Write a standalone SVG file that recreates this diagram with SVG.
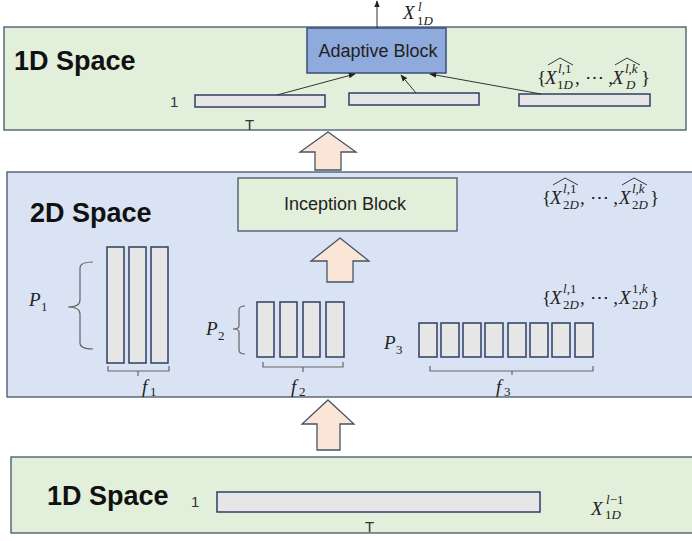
<svg xmlns="http://www.w3.org/2000/svg" width="692" height="541" viewBox="0 0 692 541">
  <style>
    .panel1d { fill: #e2efda; stroke: #44546a; stroke-width: 1.3; }
    .panel2d { fill: #dae3f3; stroke: #44546a; stroke-width: 1.3; }
    .bar { fill: #e7e6e6; stroke: #2f3f63; stroke-width: 1.5; }
    .title { font-family: "Liberation Sans", Arial, sans-serif; font-weight: bold; font-size: 27px; fill: #111; }
    .label { font-family: "Liberation Sans", Arial, sans-serif; font-size: 18px; fill: #222; }
    .plain { font-family: "Liberation Sans", Arial, sans-serif; font-size: 15px; fill: #333; }
    .math { font-family: "Liberation Serif", "Times New Roman", serif; font-style: italic; font-size: 19px; fill: #222; }
    .mathup { font-family: "Liberation Serif", "Times New Roman", serif; font-style: normal; font-size: 19px; fill: #222; }
    .scr { font-family: "Liberation Serif", "Times New Roman", serif; font-style: italic; font-size: 13px; fill: #222; }
    .scrup { font-family: "Liberation Serif", "Times New Roman", serif; font-style: normal; font-size: 13px; fill: #222; }
    .brace { fill: none; stroke: #666; stroke-width: 1.2; }
    .hat { fill: none; stroke: #222; stroke-width: 0.9; }
    .thin { fill: none; stroke: #333; stroke-width: 1; marker-end: url(#tip); }
    .block-arrow { fill: #fbe5d6; stroke: #44546a; stroke-width: 1.3; }
  </style>
  <defs>
    <marker id="tip" viewBox="0 0 10 10" refX="9" refY="5" markerWidth="7" markerHeight="7" markerUnits="userSpaceOnUse" orient="auto">
      <path d="M0,1 L10,5 L0,9 z" fill="#222"/>
    </marker>
  </defs>

  <!-- panels -->
  <g id="top-1d">
    <rect class="panel1d" x="4" y="27" width="682" height="103"/>
    <text class="title" x="14" y="70">1D Space</text>
  </g>
  <g id="space-2d">
    <rect class="panel2d" x="7" y="172" width="690" height="225"/>
    <text class="title" x="30" y="222">2D Space</text>
  </g>
  <g id="bottom-1d">
    <rect class="panel1d" x="11" y="457" width="690" height="76"/>
    <text class="title" x="47" y="505">1D Space</text>
    <text class="plain" x="191" y="507">1</text>
    <rect class="bar" x="217" y="492" width="323" height="20"/>
    <text class="plain" x="365" y="532">T</text>
    <text class="math" x="591" y="515">X</text>
    <text class="scr" x="606" y="504">l<tspan class="scrup">−1</tspan></text>
    <text class="scrup" x="605" y="519">1<tspan class="scr">D</tspan></text>
  </g>

  <!-- adaptive block -->
  <g id="adaptive-block">
    <rect x="307" y="28" width="139" height="45" fill="#8faadc" stroke="#3b4f7a" stroke-width="1.5"/>
    <text class="label" x="378" y="57" text-anchor="middle">Adaptive Block</text>
  </g>

  <!-- output label -->
  <g id="output-label">
    <text class="math" x="403" y="19">X</text>
    <text class="scr" x="418" y="11" font-size="11">l</text>
    <text class="scrup" x="417" y="25" font-size="12">1<tspan class="scr" font-size="12">D</tspan></text>
  </g>

  <!-- 1D series bars -->
  <g id="series-1d">
    <text class="plain" x="170" y="107">1</text>
    <rect class="bar" x="195" y="95" width="130" height="12"/>
    <rect class="bar" x="349" y="93" width="130" height="12"/>
    <rect class="bar" x="519" y="94" width="131" height="12"/>
    <text class="plain" x="245" y="130">T</text>
  </g>

  <!-- hatted 1D set label -->
  <g id="set-1d">
    <text class="mathup" x="537" y="84">{</text>
    <text class="math" x="545" y="84">X</text>
    <text class="scr" x="558" y="73">l<tspan class="scrup">,1</tspan></text>
    <text class="scrup" x="557" y="89">1<tspan class="scr">D</tspan></text>
    <text class="mathup" x="575" y="84">, ⋯ ,</text>
    <text class="math" x="612" y="84">X</text>
    <text class="scr" x="625" y="73">l,k</text>
    <text class="scr" x="626" y="89">D</text>
    <text class="mathup" x="641" y="84">}</text>
    <path class="hat" d="M548,65 L560,58 L573,65"/>
    <path class="hat" d="M615,65 L627,58 L640,65"/>
  </g>

  <!-- inception block -->
  <g id="inception-block">
    <rect x="238" y="178" width="219" height="53" fill="#e2efda" stroke="#44546a" stroke-width="1.3"/>
    <text class="label" x="345" y="210" text-anchor="middle">Inception Block</text>
  </g>

  <!-- hatted 2D set label -->
  <g id="set-2d-hat">
    <text class="mathup" x="542" y="204">{</text>
    <text class="math" x="550" y="204">X</text>
    <text class="scr" x="563" y="193">l<tspan class="scrup">,1</tspan></text>
    <text class="scrup" x="563" y="209">2<tspan class="scr">D</tspan></text>
    <text class="mathup" x="580" y="204">, ⋯ ,</text>
    <text class="math" x="619" y="204">X</text>
    <text class="scr" x="632" y="193">l,k</text>
    <text class="scrup" x="632" y="209">2<tspan class="scr">D</tspan></text>
    <text class="mathup" x="650" y="204">}</text>
    <path class="hat" d="M553,185 L565,178 L578,185"/>
    <path class="hat" d="M622,185 L634,178 L647,185"/>
  </g>

  <!-- 2D set label -->
  <g id="set-2d">
    <text class="mathup" x="542" y="304">{</text>
    <text class="math" x="550" y="304">X</text>
    <text class="scr" x="563" y="293">l<tspan class="scrup">,1</tspan></text>
    <text class="scrup" x="563" y="309">2<tspan class="scr">D</tspan></text>
    <text class="mathup" x="580" y="304">, ⋯ ,</text>
    <text class="math" x="619" y="304">X</text>
    <text class="scrup" x="632" y="293">1,<tspan class="scr">k</tspan></text>
    <text class="scrup" x="632" y="309">2<tspan class="scr">D</tspan></text>
    <text class="mathup" x="650" y="304">}</text>
  </g>

  <!-- period group 1 -->
  <g id="period-1">
    <rect class="bar" x="107" y="247" width="17" height="116"/>
    <rect class="bar" x="129" y="247" width="17" height="116"/>
    <rect class="bar" x="151" y="247" width="17" height="116"/>
    <path class="brace" d="M93,262 Q80,262 80,268 L80,300 Q80,307 68,307 Q80,307 80,314 L80,343 Q80,349 93,349"/>
    <path class="brace" d="M108,366 L108,371 L169,371 L169,366 M138,371 L138,376"/>
    <text class="math" x="29" y="306">P</text>
    <text class="scrup" x="41" y="311">1</text>
    <text class="math" x="142" y="393">f</text>
    <text class="scrup" x="150" y="396">1</text>
  </g>

  <!-- period group 2 -->
  <g id="period-2">
    <rect class="bar" x="257" y="302" width="17" height="55"/>
    <rect class="bar" x="280" y="302" width="17" height="55"/>
    <rect class="bar" x="303" y="302" width="17" height="55"/>
    <rect class="bar" x="326" y="302" width="18" height="55"/>
    <path class="brace" d="M245,306 Q239,306 239,310 L239,326 Q239,329 233,329 Q239,329 239,332 L239,350 Q239,354 245,354"/>
    <path class="brace" d="M263,362 L263,367 L343,367 L343,362 M303,367 L303,372"/>
    <text class="math" x="206" y="335">P</text>
    <text class="scrup" x="218" y="340">2</text>
    <text class="math" x="291" y="393">f</text>
    <text class="scrup" x="299" y="396">2</text>
  </g>

  <!-- period group 3 -->
  <g id="period-3">
    <rect class="bar" x="419" y="323" width="18" height="34"/>
    <rect class="bar" x="441" y="323" width="18" height="34"/>
    <rect class="bar" x="463" y="323" width="18" height="34"/>
    <rect class="bar" x="485" y="323" width="18" height="34"/>
    <rect class="bar" x="508" y="323" width="18" height="34"/>
    <rect class="bar" x="530" y="323" width="18" height="34"/>
    <rect class="bar" x="552" y="323" width="18" height="34"/>
    <rect class="bar" x="575" y="323" width="18" height="34"/>
    <path class="brace" d="M430,366 L430,371 L593,371 L593,366 M512,371 L512,375"/>
    <text class="math" x="384" y="349">P</text>
    <text class="scrup" x="396" y="354">3</text>
    <text class="math" x="496" y="393">f</text>
    <text class="scrup" x="504" y="396">3</text>
  </g>

  <!-- connectors -->
  <g id="connectors">
    <line class="thin" x1="377" y1="28" x2="377" y2="1"/>
    <line class="thin" x1="277" y1="95" x2="355" y2="74"/>
    <line class="thin" x1="416" y1="93" x2="401" y2="75"/>
    <line class="thin" x1="541" y1="94" x2="430" y2="74"/>
    <path class="block-arrow" d="M328,132 L356,152 L341,152 L341,170 L315,170 L315,152 L300,152 Z"/>
    <path class="block-arrow" d="M340,238 L369,261 L353,261 L353,282 L327,282 L327,261 L311,261 Z"/>
    <path class="block-arrow" d="M328,400 L354,424 L340,424 L340,450 L317,450 L317,424 L302,424 Z"/>
  </g>
</svg>
